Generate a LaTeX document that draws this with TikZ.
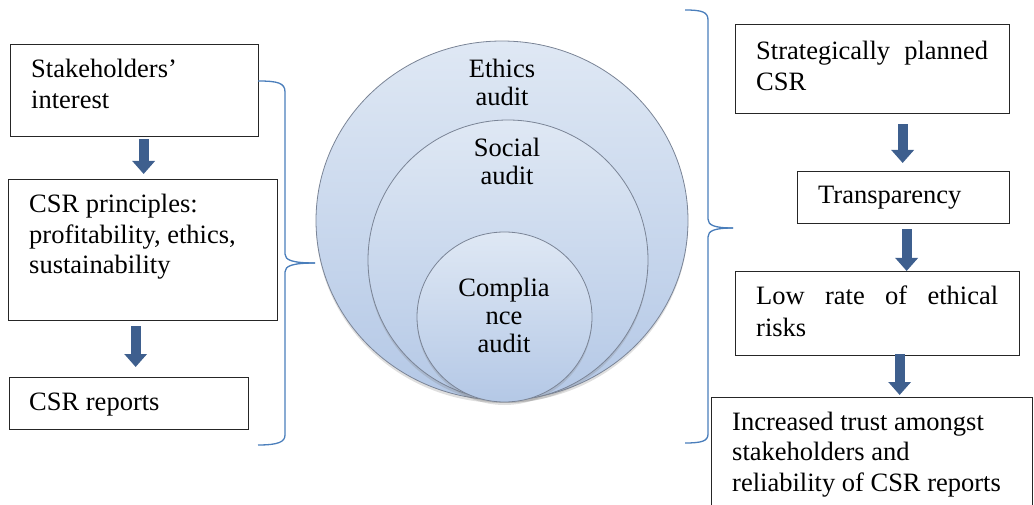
\documentclass[tikz,border=0pt]{standalone}
\usepackage{fontspec}
\setmainfont{Liberation Serif}
\usetikzlibrary{arrows.meta,shapes.geometric,shadows,calc}
\definecolor{arrowblue}{HTML}{3E5F8E}
\definecolor{braceblue}{HTML}{4A7EBB}
\definecolor{circtop}{HTML}{DFE8F4}
\definecolor{circbot}{HTML}{B4C8E6}
\definecolor{circline}{HTML}{7A8496}
\begin{document}
\begin{tikzpicture}[x=1pt,y=-1pt,
  box/.style={draw=black!85, line width=1.3pt, inner sep=0pt, anchor=north west},
  barrow/.style={draw=arrowblue, line width=10pt, -{Triangle[width=22pt,length=13pt]}},
  brace/.style={draw=braceblue, line width=1.3pt},
  circ/.style={draw=circline, line width=0.8pt, top color=circtop, bottom color=circbot, inner sep=0pt,
    drop shadow={shadow xshift=0pt, shadow yshift=-3pt, opacity=0.25}},
  txt/.style={font=\fontsize{26.5}{30.5}\selectfont, inner sep=0pt, anchor=base west},
  ctxt/.style={font=\fontsize{26.5}{27.5}\selectfont, inner sep=0pt, anchor=base}]
\useasboundingbox (0,0) rectangle (1034,505);
\clip (0,0) rectangle (1034,505);

% left boxes
\node[box, minimum width=248pt, minimum height=92pt] (l1) at (10,44) {};
\node[box, minimum width=269pt, minimum height=141pt] (l2) at (8,179) {};
\node[box, minimum width=239pt, minimum height=52pt] (l3) at (9,377) {};
% right boxes
\node[box, minimum width=274pt, minimum height=89pt] (r1) at (735,24) {};
\node[box, minimum width=212pt, minimum height=52pt] (r2) at (797,171) {};
\node[box, minimum width=284pt, minimum height=84pt] (r3) at (735,271) {};
\node[box, minimum width=321pt, minimum height=130pt] (r4) at (711,397) {};

% texts
\node[txt] (tl1) at (31,78) {\parbox[t]{230pt}{Stakeholders’\\interest}};
\node[txt] (tl2) at (29,213) {\parbox[t]{245pt}{CSR principles:\\profitability, ethics,\\sustainability}};
\node[txt] (tl3) at (29,410) {CSR reports};
\node[txt] (tr1) at (756,60) {\parbox[t]{240pt}{\makebox[232pt][s]{Strategically planned}\\CSR}};
\node[txt] (tr2) at (818,204) {Transparency};
\node[txt] (tr3) at (756,305) {\parbox[t]{250pt}{\makebox[242pt][s]{Low rate of ethical}\\[1.5pt]risks}};
\node[txt] (tr4) at (732,430) {\parbox[t]{300pt}{Increased trust amongst\\stakeholders and\\reliability of CSR reports}};

% arrows
\draw[barrow] ([xshift=9pt,yshift=-2pt]l1.south) -- ([xshift=0.5pt,yshift=5pt]l2.north);
\draw[barrow] ([xshift=-7.5pt,yshift=-5pt]l2.south) -- ([xshift=6.5pt,yshift=10pt]l3.north);
\draw[barrow] ([xshift=30pt,yshift=-10pt]r1.south) -- ([xshift=-1pt,yshift=8pt]r2.north);
\draw[barrow] ([xshift=3pt,yshift=-5pt]r2.south) -- ([xshift=29pt,yshift=0pt]r3.north);
\draw[barrow] ([xshift=22pt,yshift=2pt]r3.south) -- ([xshift=27.5pt,yshift=2pt]r4.north);

% circles
\node[circ, ellipse, minimum width=372pt, minimum height=359pt] (c1) at (502,220.5) {};
\node[circ, circle, minimum size=280pt] (c2) at (508,260) {};
\node[circ, ellipse, minimum width=175pt, minimum height=170pt] (c3) at (504.5,317) {};
\node[ctxt] (tc1) at (502,78) {\parbox[t]{120pt}{\centering Ethics\\audit}};
\node[ctxt] (tc2) at (507,157) {\parbox[t]{120pt}{\centering Social\\audit}};
\node[ctxt] (tc3) at (504,297) {\parbox[t]{120pt}{\centering Complia\\nce\\audit}};

% braces
\coordinate (lbtip) at (315,263);
\draw[brace] (258,81) .. controls (278,81) and (285,83) .. (285,92) -- (285,254)
  .. controls (285,260) and (292,263) .. (lbtip);
\draw[brace] (lbtip) .. controls (292,263) and (285,266) .. (285,272) -- (285,435)
  .. controls (285,442) and (278,445) .. (258,445);
\coordinate (rbtip) at (733,228);
\draw[brace] (685,10) .. controls (702,10) and (708,12) .. (708,20) -- (708,219)
  .. controls (708,225) and (714,228) .. (rbtip);
\draw[brace] (rbtip) .. controls (714,228) and (708,231) .. (708,237) -- (708,434)
  .. controls (708,441) and (702,443) .. (685,443);
\end{tikzpicture}
\end{document}
